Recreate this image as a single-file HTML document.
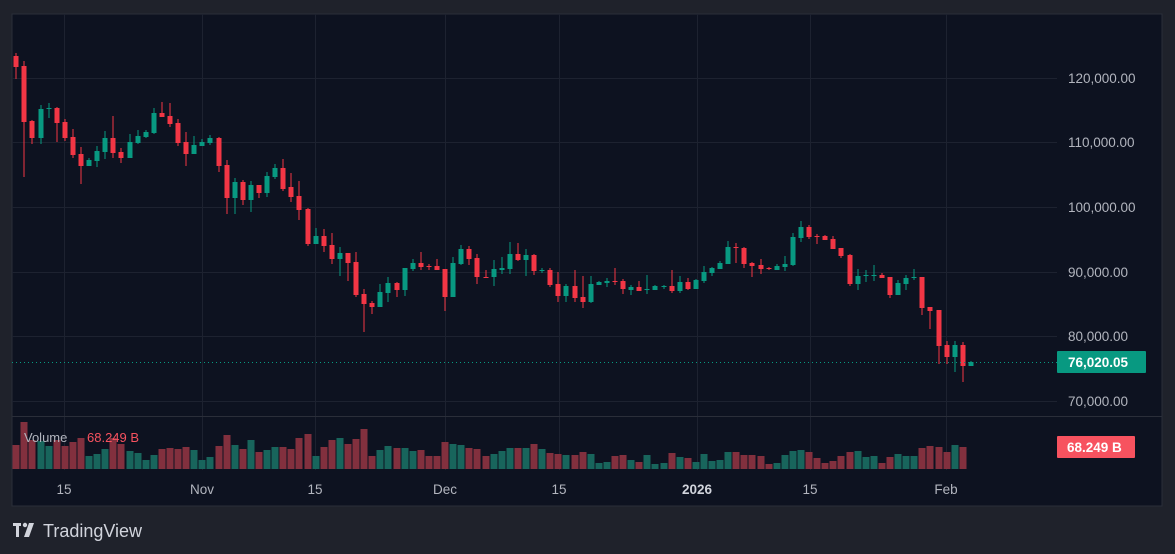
<!DOCTYPE html>
<html><head><meta charset="utf-8"><style>
html,body{margin:0;padding:0;background:#1f222b;width:1175px;height:554px;overflow:hidden}
svg{display:block}
text{font-family:"Liberation Sans",sans-serif}
</style></head><body>
<svg id="s" width="1175" height="554" xmlns="http://www.w3.org/2000/svg">
<rect x="0" y="0" width="1175" height="554" fill="#1f222b"/>
<rect x="12" y="14" width="1150" height="492" fill="#0d1220" stroke="#2a2e39" stroke-width="1"/>
<g id="grid" stroke="#1d2230" stroke-width="1"></g>
<line x1="12" y1="416.5" x2="1162" y2="416.5" stroke="#2a2e39"/>
<g id="vol"></g>
<g id="cdl"></g>
<line x1="12" y1="362.5" x2="1057" y2="362.5" stroke="#089981" stroke-dasharray="1,3" stroke-width="1"/>
<g font-size="13.5" fill="#b2b5be">
<text x="1068" y="83">120,000.00</text>
<text x="1068" y="147">110,000.00</text>
<text x="1068" y="212">100,000.00</text>
<text x="1068" y="277">90,000.00</text>
<text x="1068" y="341">80,000.00</text>
<text x="1068" y="406">70,000.00</text>
</g>
<rect x="1057" y="351" width="89" height="22" rx="1" fill="#089981"/>
<text x="1068" y="367" font-size="13.5" font-weight="bold" fill="#ffffff">76,020.05</text>
<rect x="1057" y="436" width="78" height="22" rx="1" fill="#f7525f"/>
<text x="1067" y="452" font-size="13.5" font-weight="bold" fill="#ffffff">68.249 B</text>
<text x="24" y="442" font-size="13" fill="#b2b5be">Volume</text>
<text x="87" y="442" font-size="13" fill="#f7525f">68.249 B</text>
<g font-size="13.5" fill="#b2b5be" text-anchor="middle">
<text x="64" y="494">15</text>
<text x="202" y="494">Nov</text>
<text x="315" y="494">15</text>
<text x="445" y="494">Dec</text>
<text x="559" y="494">15</text>
<text x="697" y="494" font-weight="bold" fill="#d1d4dc">2026</text>
<text x="810" y="494">15</text>
<text x="946" y="494">Feb</text>
</g>
<g fill="#d1d4dc">
<rect x="13" y="523" width="8" height="3"/><rect x="16" y="523" width="3" height="14"/>
<circle cx="25" cy="525" r="2.2"/>
<polygon points="29,523 34,523 29,537 24,537"/>
<text x="43" y="537" font-size="18">TradingView</text>
</g>
</svg>
<script>
var C=[
['r',56,67,53,79],['r',66,122,61,177],['r',121,138,120,144],['g',109,138,105,144],['g',108,109,103,118],
['r',108,123,107,142],['r',122,138,119,141],['r',137,155,129,158],['r',154,166,147,184],['g',160,166,158,166],
['g',151,161,146,167],['g',138,152,131,159],['r',138,153,116,158],['r',152,158,148,163],['g',142,158,134,158],
['g',136,143,130,144],['g',132,137,130,138],['g',113,133,108,134],['r',113,117,102,117],['r',116,124,103,127],
['r',123,143,119,146],['r',142,154,132,166],['g',145,154,136,154],['g',142,146,139,146],['g',138,143,135,145],
['r',138,166,137,172],['r',165,198,160,214],['g',182,198,178,214],['r',182,200,180,205],['g',185,200,181,212],
['r',185,193,185,198],['g',176,193,172,197],['g',168,177,164,179],['r',168,189,159,191],['r',187,197,173,202],
['r',196,210,181,220],['r',209,244,208,246],['g',236,244,228,244],['r',236,246,229,252],['r',245,259,233,264],
['g',253,259,247,276],['r',253,263,253,281],['r',262,295,252,297],
['r',294,304,289,332],['r',303,307,301,314],['g',292,307,284,307],['g',283,293,277,302],['r',283,290,282,297],
['g',268,290,268,296],['g',263,269,259,271],['r',263,267,252,270],['r',266,267,264,270],['r',266,270,259,270],
['r',269,297,269,311],['g',263,297,257,297],['g',249,264,245,265],['r',249,259,246,265],['r',258,277,254,284],
['r',277,278,270,278],['g',269,277,260,286],['g',268,270,257,274],['g',254,269,242,274],['r',254,260,243,261],
['g',255,260,249,276],['r',255,271,254,275],['g',270,271,268,273],['r',270,285,268,287],['r',284,296,272,302],
['g',286,296,284,302],['r',286,298,270,302],['r',297,302,276,308],['g',284,302,276,303],['g',282,285,281,285],
['g',281,283,278,287],['r',281,282,268,285],['r',281,289,279,294],['g',287,290,285,295],['r',287,291,281,291],
['g',289,290,275,294],['g',286,290,285,290],['g',286,287,285,289],['r',286,291,270,293],['g',282,291,276,293],
['r',282,289,278,290],['g',280,289,279,289],
['g',272,281,266,283],['g',268,273,267,276],['g',263,269,261,269],['g',247,264,241,264],['r',247,248,243,263],
['r',248,264,247,268],['r',263,266,262,277],['r',265,269,259,274],['r',268,269,267,270],['g',266,270,264,270],
['g',264,267,256,271],['g',237,265,233,266],['g',227,238,221,242],['r',227,237,225,239],['r',236,237,234,244],
['r',236,240,235,240],['r',239,249,236,249],['r',248,256,248,258],['r',255,284,254,286],['g',276,284,269,290],
['g',275,276,270,282],['g',275,276,265,281],['r',275,278,273,278],['r',277,295,277,298],['g',283,295,280,295],
['g',278,284,275,290],['g',277,278,269,280],['r',277,308,277,315],['r',307,311,307,329],['r',310,346,310,364],
['r',345,357,341,364],['g',345,357,341,372],['r',345,366,342,382],['g',362,366,361,366]];
var V=[['r',445],['r',422],['r',440],['g',441],['g',446],['r',440],['r',446],['r',442],['r',438],['g',456],
['g',454],['g',449],['r',438],['r',444],['g',451],['g',453],['g',460],['g',455],['r',449],['r',448],
['r',449],['r',447],['g',450],['g',460],['g',457],['r',446],['r',435],['g',445],['r',449],['g',440],
['r',452],['g',450],['g',447],['r',447],['r',449],['r',438],['r',434],['g',456],['r',447],['r',440],
['g',438],['r',444],['r',439],['r',429],['r',456],['g',450],['g',446],['r',448],['g',448],['g',451],
['r',450],['r',456],['r',456],['r',442],['g',444],['g',445],['r',448],['r',449],['r',456],['g',454],
['g',451],['g',448],['r',448],['g',448],['r',444],['g',449],['r',453],['r',454],['g',455],['r',455],
['r',452],['g',454],['g',463],['g',462],['r',456],['r',455],['g',460],['r',462],['g',455],['g',464],
['g',463],['r',453],['g',457],['r',458],['g',462],['g',454],['g',461],['g',460],['g',452],['r',452],
['r',455],['r',455],['r',456],['r',464],['g',463],['g',455],['g',451],['g',450],['r',452],['r',458],
['r',463],['r',461],['r',456],['r',452],['g',451],['g',457],['g',456],['r',463],['r',457],['g',454],
['g',456],['g',456],['r',448],['r',446],['r',447],['r',452],['g',445],['r',447]];
var NS="http://www.w3.org/2000/svg";
function el(p,t,a){var e=document.createElementNS(NS,t);for(var k in a)e.setAttribute(k,a[k]);p.appendChild(e);return e;}
var g=document.getElementById('grid');
[78.5,142.5,207.5,272.5,336.5,401.5].forEach(function(y){el(g,'line',{x1:12,x2:1057,y1:y,y2:y});});
[64,202,315,445,559,697,810,946].forEach(function(x){el(g,'line',{x1:x+.5,x2:x+.5,y1:14,y2:470});});
var cg=document.getElementById('cdl'),vg=document.getElementById('vol');
function X(k){return 16.3+8.09*k;}
C.forEach(function(c,k){var x=X(k),col=c[0]=='r'?'#f23645':'#089981';
el(cg,'rect',{x:Math.round(x)-0.5,y:c[3],width:1,height:Math.max(1,c[4]-c[3]),fill:col});
el(cg,'rect',{x:Math.round(x)-2.5,y:c[1],width:5,height:Math.max(1,c[2]-c[1]),fill:col});});
V.forEach(function(v,k){var x=X(k);el(vg,'rect',{x:Math.round(x)-3.5,y:v[1],width:7,height:469-v[1],fill:v[0]=='r'?'#82303e':'#18655c'});});
</script>
</body></html>
